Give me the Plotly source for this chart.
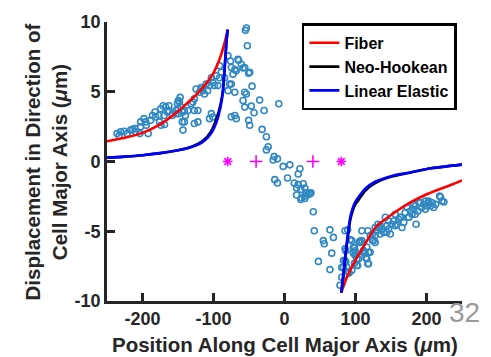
import plotly.graph_objects as go

# Measured displacement samples (position in um, displacement in um)
scatter_x = [
    -235.8, -231.0, -233.0, -226.0, -221.6, -216.8, -210.7, -209.8, -202.7, -202.7,
    -198.0, -195.6, -192.0, -194.8, -188.6, -186.0, -182.5, -181.5, -176.8, -174.4,
    -171.0, -167.3, -165.0, -169.7, -162.7, -158.0, -153.0, -150.8, -149.5,
    -214.0, -203.7, -176.0, -174.0, -169.0, -163.0, -147.0, -144.0, -143.0, -139.6, -149.0,
    -148.0, -150.0, -145.7, -143.0, -141.0, -136.0, -141.0, -127.0, -122.0, -131.5,
    -127.0, -124.5, -119.8, -117.4, -115.0, -112.7, -110.3, -105.6, -100.8, -98.6,
    -93.8, -91.5, -96.0, -108.3, -103.0, -101.0, -105.6, -122.0, -127.0, -152.8,
    -70.0, -67.9, -77.4, -79.6, -75.0, -70.0, -72.6, -65.5, -70.0, -60.8, -56.0, -56.0,
    -79.6, -76.0, -64.6, -58.4, -68.0, -49.0, -75.0, -45.7, -84.4, -89.0, -91.5, -103.0,
    -117.0, -129.0, -75.0,
    -53.7, -55.0, -52.3,
    -50.5, -53.7, -35.0, -58.4, -56.0, -46.7, -42.9, -28.7, -8.0, -50.5,
    -49.0, -31.5, -25.5, -23.0, -25.5, -14.6, -9.9, -16.0, -1.9, 7.5,
    21.7, 19.3, 4.2, -13.7, -9.9, 13.7, 19.3, 26.4, 17.0, 23.0,
    28.7, 31.0, 35.8, 17.0, 24.0, 28.7, 23.0, 28.7, 33.5, 37.2,
    40.6, 42.0, 64.0, 68.9, 54.7, 56.0, 66.5, 47.7, 64.0, 89.0,
    92.4, 86.3, 86.3, 83.0, 80.6, 78.2, 98.6, 97.0, 101.8, 98.6,
    103.0, 106.5, 94.8, 91.0, 80.6, 83.0,
    85.3, 85.3, 85.3, 87.7, 90.0, 94.8, 97.0, 97.0, 99.5, 101.8,
    104.2, 106.5, 109.0, 111.3, 113.6, 116.0, 118.4, 116.0, 117.4, 117.4,
    125.5, 127.7, 132.5, 130.0, 137.0, 134.8, 139.6, 142.0, 144.3, 146.7,
    149.0, 151.3, 153.7, 156.0, 158.4, 160.8, 164.5, 165.5, 168.0, 170.0,
    172.6, 175.0, 177.2, 179.6, 182.0, 184.3, 185.3, 188.0, 190.0, 193.0,
    196.0, 198.4, 200.8, 203.0, 205.6, 208.0, 210.0, 218.4, 222.0, 127.7,
    109.0, 120.7, 124.0, 156.0, 146.7, 134.8,
    99.5, 105.0, 111.0, 114.6, 118.4, 120.7, 124.0, 127.7, 131.5, 133.4,
    144.0, 163.0, 175.0, 182.0, 184.0, 191.4, 198.4, 203.0, 213.0, 219.7, 224.5,
]
scatter_y = [
    2.00, 2.13, 1.84, 2.17, 2.00, 2.25, 2.36, 2.13, 2.48, 2.84,
    3.07, 2.84, 2.00, 2.60, 2.95, 3.30, 3.55, 3.19, 3.30, 3.78,
    4.00, 3.90, 3.55, 3.30, 4.00, 3.30, 3.66, 4.14, 4.37,
    2.30, 2.00, 2.84, 2.60, 2.65, 3.66, 4.60, 2.84, 2.25, 3.30, 3.43,
    4.26, 3.78, 3.90, 3.55, 3.66, 3.66, 2.84, 3.66, 3.66, 4.14,
    4.50, 5.20, 4.96, 5.30, 5.08, 4.84, 5.55, 5.44, 5.67, 5.44,
    5.44, 6.00, 6.15, 5.08, 3.43, 3.19, 3.07, 2.84, 2.72, 3.43,
    3.30, 3.07, 5.55, 5.08, 6.74, 6.60, 6.26, 7.33, 4.96, 6.97, 6.74, 4.96,
    7.57, 7.20, 7.26, 6.70, 6.50, 6.40, 5.55, 5.40, 6.00, 6.40, 6.86, 6.00,
    5.20, 4.26, 3.20,
    9.57, 9.40, 8.30,
    6.33, 4.84, 4.40, 4.37, 3.90, 3.97, 3.50, 3.66, 4.14, 2.95,
    2.60, 2.30, 1.77, 1.06, 0.83, 0.35, 0.19, 0.11, -0.35, -0.24,
    -0.52, -0.90, -1.18, -1.30, -1.54, -1.54, -1.66, -1.60, -1.90, -2.00,
    -1.90, -2.25, -2.32, -2.40, -2.60, -2.65, -2.72, -2.48, -2.37, -2.25,
    -3.60, -4.96, -4.90, -5.44, -5.67, -5.90, -6.57, -7.16, -7.75, -4.90,
    -5.60, -6.40, -7.20, -7.60, -8.30, -8.87, -6.20, -6.57, -6.97, -7.30,
    -7.45, -5.70, -7.80, -8.00, -7.60, -7.10,
    -4.96, -6.26, -7.10, -7.57, -7.90, -5.67, -6.15, -6.50, -6.74, -7.45,
    -6.97, -5.80, -5.67, -6.38, -6.60, -6.15, -6.50, -6.97, -7.33, -4.96,
    -5.67, -5.30, -4.73, -4.96, -4.85, -5.20, -5.08, -4.00, -4.60, -4.85,
    -5.20, -4.50, -4.26, -3.78, -4.50, -4.14, -4.00, -4.73, -4.37, -3.66,
    -3.30, -4.00, -3.55, -3.78, -3.43, -3.19, -4.50, -3.55, -2.96, -3.30,
    -3.07, -3.43, -3.19, -2.84, -3.19, -2.96, -3.30, -2.48, -2.84, -4.73,
    -4.96, -5.30, -5.20, -4.60, -4.26, -4.60,
    -6.40, -5.80, -6.50, -6.90, -7.33, -6.50, -5.67, -5.80, -4.50, -4.73,
    -5.08, -4.00, -4.00, -3.07, -3.78, -2.95, -2.84, -2.95, -3.07, -2.55, -2.90,
]

# Reference markers on the cell major axis
star_x = [-80, 80]
star_y = [0, 0]
plus_x = [-40, 40]
plus_y = [0, 0]

# Model curves, left and right of the cell (None splits the two branches)
fiber_x = [-250, -225, -200, -177, -160, -150, -140, -129, -115, -101, -91.5, -84.4, -80,
           None,
           80, 87, 99.5, 113.6, 127.7, 151, 175, 198, 220, 236, 250]
fiber_y = [1.45, 1.70, 2.05, 2.60, 3.20, 3.60, 4.05, 4.55, 5.30, 6.26, 7.33, 8.50, 9.45,
           None,
           -9.40, -8.40, -7.10, -5.90, -4.75, -3.80, -3.00, -2.40, -1.95, -1.65, -1.35]

neo_x = [-250, -225, -200, -175, -150, -130, -115, -103, -96, -90.5, -86.7, -84.4, -82, -80,
         None,
         80, 83, 86.3, 90, 93, 99.5, 105, 113.6, 127.7, 150, 175, 204, 250]
neo_y = [0.28, 0.35, 0.45, 0.60, 0.80, 1.08, 1.48, 2.20, 3.05, 4.00, 5.10, 6.60, 8.40, 9.45,
         None,
         -9.40, -8.10, -6.60, -5.10, -4.10, -3.10, -2.70, -2.10, -1.55, -1.10, -0.82, -0.50, -0.22]

lin_x = [-250, -225, -200, -175, -150, -130, -115, -103, -96, -90.5, -86.7, -84.4, -82, -80,
         None,
         80, 83, 86.3, 90, 93, 99.5, 105, 113.6, 127.7, 150, 175, 204, 250]
lin_y = [0.28, 0.35, 0.45, 0.60, 0.80, 1.05, 1.40, 2.05, 2.80, 3.80, 5.00, 6.60, 8.40, 9.45,
         None,
         -9.40, -8.00, -6.40, -4.90, -3.90, -2.90, -2.50, -1.95, -1.45, -1.05, -0.80, -0.50, -0.22]

x_ticks = [-200, -100, 0, 100, 200]
y_ticks = [-10, -5, 0, 5, 10]

INK = "#262626"
FONT = "Liberation Sans"

fig = go.Figure()

fig.add_trace(go.Scatter(
    x=scatter_x, y=scatter_y, mode="markers", showlegend=False,
    marker=dict(symbol="circle-open", size=6, color="#2f88c2", line=dict(width=1.6)),
))
fig.add_trace(go.Scatter(
    x=star_x, y=star_y, mode="markers", showlegend=False,
    marker=dict(symbol="asterisk-open", size=8, color="#ff00ff", line=dict(width=1.6, color="#ff00ff")),
))
fig.add_trace(go.Scatter(
    x=plus_x, y=plus_y, mode="markers", showlegend=False,
    marker=dict(symbol="cross-thin-open", size=9, color="#ff00ff", line=dict(width=1.6, color="#ff00ff")),
))

fig.add_trace(go.Scatter(x=fiber_x, y=fiber_y, mode="lines", name="Fiber",
                         line=dict(color="#ff0000", width=2.6, shape="spline", smoothing=0.6)))
fig.add_trace(go.Scatter(x=neo_x, y=neo_y, mode="lines", name="Neo-Hookean",
                         line=dict(color="#000000", width=2.6, shape="spline", smoothing=0.6)))
fig.add_trace(go.Scatter(x=lin_x, y=lin_y, mode="lines", name="Linear Elastic",
                         line=dict(color="#0000ff", width=2.6, shape="spline", smoothing=0.6)))

axis_common = dict(
    showgrid=False, zeroline=False, showline=True, linecolor=INK, linewidth=2.7,
    ticks="inside", ticklen=8, tickwidth=2.7, tickcolor=INK, mirror=False,
    tickfont=dict(family=FONT, size=18, color=INK, weight="bold"),
)

fig.update_xaxes(range=[-250, 250], tickvals=x_ticks, ticktext=[str(v) for v in x_ticks], **axis_common)
fig.update_yaxes(range=[-10, 10], tickvals=y_ticks, ticktext=[str(v) for v in y_ticks], **axis_common)

fig.update_layout(
    width=491, height=357,
    margin=dict(l=107, r=29, t=19, b=56),
    plot_bgcolor="white", paper_bgcolor="white",
    font=dict(family=FONT, color=INK),
    legend=dict(
        x=0.549, y=0.995, xanchor="left", yanchor="top",
        bgcolor="white", bordercolor="#000000", borderwidth=2.5,
        font=dict(family=FONT, size=16, color="#000000", weight="bold"),
        tracegroupgap=0, itemwidth=30,
    ),
    annotations=[
        dict(text="Position Along Cell Major Axis (<i>μ</i>m)", xref="paper", yref="paper",
             x=0.5, y=-0.156, xanchor="center", yanchor="middle", showarrow=False,
             font=dict(family=FONT, size=20.5, color=INK, weight="bold")),
        dict(text="Displacement in Direction of<br>Cell Major Axis (<i>μ</i>m)", xref="paper", yref="paper",
             x=-0.172, y=0.5, xanchor="center", yanchor="middle", textangle=-90, showarrow=False,
             font=dict(family=FONT, size=20.5, color=INK, weight="bold")),
        dict(text="32", xref="paper", yref="paper", x=1.006, y=-0.04, xanchor="center", yanchor="middle",
             showarrow=False, font=dict(family=FONT, size=28, color="#999999")),
    ],
)

fig.write_html("out.html")
